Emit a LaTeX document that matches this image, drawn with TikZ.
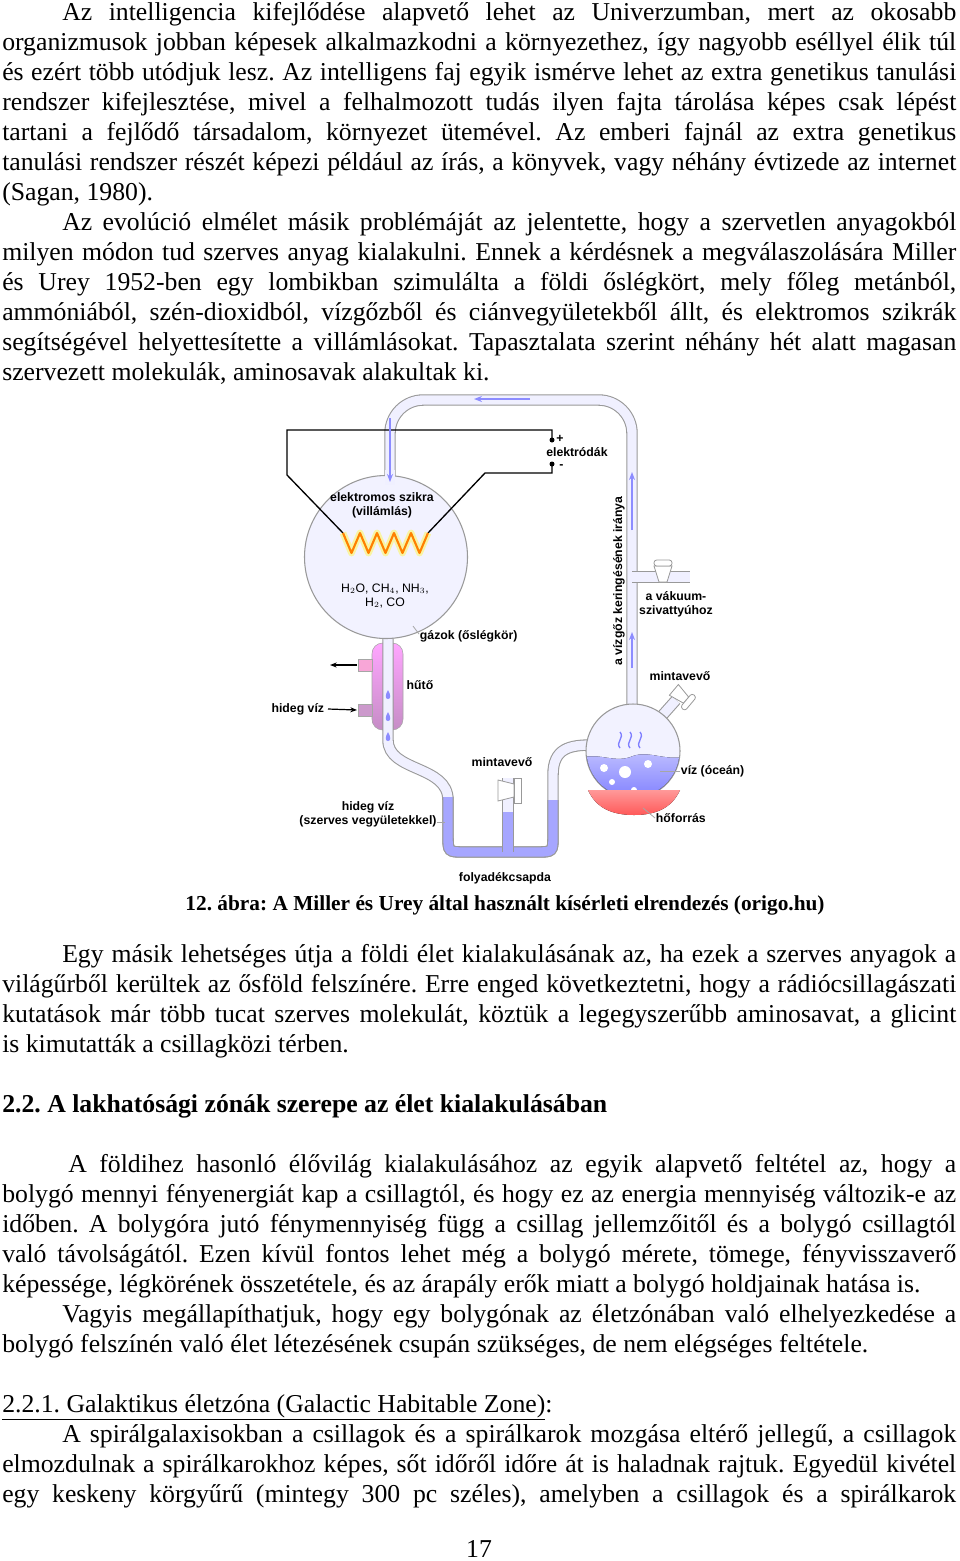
\documentclass[tikz,border=0pt]{standalone}
\usepackage{fontspec}
\setmainfont{Liberation Serif}
\newfontfamily\labfont{Liberation Sans}
\usetikzlibrary{arrows.meta}
\frenchspacing

\newcommand\jline[4]{\node[anchor=base west,inner sep=0pt] (#1) at (#2,#3) {\hbox to \dimexpr(956pt-#2pt)*3/4\relax{#4}};}
\newcommand\lline[4]{\node[anchor=base west,inner sep=0pt] (#1) at (#2,#3) {#4};}

\tikzset{
  tube/.style={draw=gray!80,line width=0.8pt,double=blue!6,double distance=7pt},
  liquid/.style={draw=gray!80,line width=0.8pt,double=blue!35,double distance=7pt},
  lab/.style={font=\labfont\bfseries\fontsize{9.2}{10.5}\selectfont,inner sep=0.5pt,align=center},
  flowarrow/.style={-{Stealth[length=6pt]},draw=blue!45,line width=1.6pt},
  leader/.style={draw=gray!70,line width=0.6pt},
  wire/.style={draw=black,line width=1pt},
  valve/.style={draw=gray!80,fill=white,line width=0.6pt},
}

\begin{document}
\begin{tikzpicture}[x=0.75pt,y=-0.75pt,font=\fontsize{19.3}{22}\selectfont]
    \useasboundingbox[fill=white] (0,0) rectangle (960,1561);

    % first paragraph
    \jline{p1}{62}{20}{Az intelligencia kifejlődése alapvető lehet az Univerzumban, mert az okosabb}
    \jline{p2}{2}{50}{organizmusok jobban képesek alkalmazkodni a környezethez, így nagyobb eséllyel élik túl}
    \jline{p3}{2}{80}{és ezért több utódjuk lesz. Az intelligens faj egyik ismérve lehet az extra genetikus tanulási}
    \jline{p4}{2}{110}{rendszer kifejlesztése, mivel a felhalmozott tudás ilyen fajta tárolása képes csak lépést}
    \jline{p5}{2}{140}{tartani a fejlődő társadalom, környezet ütemével. Az emberi fajnál az extra genetikus}
    \jline{p6}{2}{170}{tanulási rendszer részét képezi például az írás, a könyvek, vagy néhány évtizede az internet}
    \lline{p7}{2}{200}{(Sagan, 1980).}
    % second paragraph
    \jline{q1}{62}{230}{Az evolúció elmélet másik problémáját az jelentette, hogy a szervetlen anyagokból}
    \jline{q2}{2}{260}{milyen módon tud szerves anyag kialakulni. Ennek a kérdésnek a megválaszolására Miller}
    \jline{q3}{2}{290}{és Urey 1952-ben egy lombikban szimulálta a földi őslégkört, mely főleg metánból,}
    \jline{q4}{2}{320}{ammóniából, szén-dioxidból, vízgőzből és ciánvegyületekből állt, és elektromos szikrák}
    \jline{q5}{2}{350}{segítségével helyettesítette a villámlásokat. Tapasztalata szerint néhány hét alatt magasan}
    \lline{q6}{2}{380}{szervezett molekulák, aminosavak alakultak ki.}

    % apparatus: upper loop
    \draw[tube,rounded corners=25] (390,480) -- (390,400) -- (632,400) -- (632,708);
    \draw[tube] (632,577) -- (690,577);
    \draw[tube] (660,718) -- (676,700);
    % condenser
    \draw[draw=gray!70,top color=magenta!35,bottom color=violet!45,rounded corners=8] (372,643) rectangle (403,730);
    \draw[draw=gray!70,fill=magenta!35] (358,659) rectangle (372,671);
    \draw[draw=gray!70,fill=violet!40] (358,704) rectangle (372,716);
    % lower tube and liquid trap
    \draw[tube] (388,630) -- (388,740) .. controls (388,772) and (448,765) .. (448,800) -- (448,835) .. controls (448,852) .. (465,852) -- (536,852) .. controls (553,852) .. (553,835) -- (553,775) .. controls (553,748) and (570,745) .. (592,745);
    \draw[liquid] (448,797) -- (448,835) .. controls (448,852) .. (465,852) -- (536,852) .. controls (553,852) .. (553,835) -- (553,800);
    \draw[liquid] (508,852) -- (508,812);
    \draw[tube] (508,812) -- (508,778);
    % drops
    \foreach \dy in {690,712,732}
      \fill[blue!45] (388,\dy) .. controls (385,\dy+5) and (385,\dy+9) .. (388,\dy+9) .. controls (391,\dy+9) and (391,\dy+5) .. (388,\dy);
    % middle sampler
    \draw[valve] (498,780) -- (514,784) -- (514,797) -- (498,801) -- cycle;
    \draw[valve] (514,778) rectangle (521,803);

    % big flask
    \node[circle,draw=gray!80,line width=0.8pt,fill=blue!5,minimum size=163pt*3/4,inner sep=0pt] (bigflask) at (386,557) {};
    \fill[blue!6] (385,470) rectangle (395,485);
    % electrodes
    \coordinate (plus) at (552,440);
    \coordinate (minus) at (552,464);
    \draw[wire] (343,533) -- (287,475) -- (287,430) -- (552,430) -- (plus);
    \draw[wire] (428,533) -- (485,473) -- (552,473) -- (minus);
    \fill (plus) circle (2.5);
    \fill (minus) circle (2.5);
    \node[lab,anchor=south west,inner sep=0pt] (pl) at (556,443) {+};
    \node[lab,anchor=west,inner sep=0pt] (mi) at (559,467) {-};
    \node[lab,anchor=west,inner sep=0pt] (elek) at (546,452) {elektródák};
    % spark
    \draw[yellow!70,line width=5pt,opacity=0.5,line join=round] (343,533) \foreach \i in {0,...,4} { -- ({351.5+17*\i},553) -- ({360+17*\i},533) } ;
    \draw[orange,line width=1.6pt,line join=round] (343,533) \foreach \i in {0,...,4} { -- ({351.5+17*\i},553) -- ({360+17*\i},533) } ;
    \node[lab] (szikra) at (382,505) {elektromos szikra\\(villámlás)};
    \node[lab,font=\labfont\fontsize{9.2}{10.5}\selectfont] (gases) at (385,596) {H$_2$O, CH$_4$, NH$_3$,\\H$_2$, CO};
    \node[lab,anchor=west] (gazok) at (419,636) {gázok (őslégkör)};
    \draw[leader] (gazok.west) ++(0,-2) -- (413,626);

    % right flask
    \node[circle,draw=gray!80,line width=0.8pt,fill=blue!5,minimum size=94pt*3/4,inner sep=0pt] (smallflask) at (633,751) {};
    \begin{scope}
      \clip (633,751) circle (46.5);
      \fill[top color=blue!25,bottom color=blue!50] (580,758) .. controls (600,752) and (615,764) .. (633,756) .. controls (650,750) and (665,762) .. (690,756) -- (690,800) -- (580,800) -- cycle;
    \end{scope}
    \foreach \bx/\by/\br in {604/768/4,625/772/6,648/764/4,612/782/3,634/790/3}
      \fill[white] (\bx,\by) circle (\br);
    \foreach \sx in {620,630,640}
      \draw[blue!50,line width=1pt] (\sx,748) .. controls (\sx-5,742) and (\sx+5,738) .. (\sx,732);
    \fill[top color=red!40,bottom color=red!65] (588,790) -- (680,790) .. controls (672,808) and (656,815) .. (634,815) .. controls (612,815) and (596,808) .. (588,790) -- cycle;
    \begin{scope}[rotate around={-40:(680,695)}]
      \draw[valve] (672,688) -- (688,691) -- (688,699) -- (672,702) -- cycle;
      \draw[valve,rounded corners=2] (688,686) rectangle (694,704);
    \end{scope}
    \draw[valve] (654,566) -- (672,566) -- (667,582) -- (659,582) -- cycle;
    \draw[valve,rounded corners=2] (654,560) rectangle (672,566);

    % flow arrows
    \draw[flowarrow] (530,399) -- (474,399);
    \draw[flowarrow] (390,418) -- (390,482);
    \draw[flowarrow] (632,530) -- (632,472);
    \draw[flowarrow] (632,668) -- (632,632);

    % labels
    \node[lab,rotate=90] (irany) at (619,581) {a vízgőz keringésének iránya};
    \node[lab] (vakuum) at (676,604) {a vákuum-\\szivattyúhoz};
    \node[lab] (mint1) at (680,676) {mintavevő};
    \node[lab] (mint2) at (502,762) {mintavevő};
    \node[lab,anchor=west] (ocean) at (680,771) {víz (óceán)};
    \draw[leader] (ocean.west) -- (660,771);
    \node[lab,anchor=west] (hofo) at (655,818) {hőforrás};
    \draw[leader] (hofo.west) -- (643,808);
    \node[lab] (huto) at (420,685) {hűtő};
    \node[lab,anchor=east] (hideg1) at (325,709) {hideg víz};
    \draw[-{Stealth[length=5pt]},line width=0.9pt] (hideg1.east) ++(3,0) -- (357,710);
    \coordinate (outend) at (330,665);
    \draw[-{Stealth[length=5pt]},line width=0.9pt] (357,665) -- (outend);
    \node[lab] (hideg2) at (368,814) {hideg víz\\(szerves vegyületekkel)};
    \draw[leader] (hideg2.east) ++(0,8) -- (445,822);
    \node[lab] (csapda) at (505,878) {folyadékcsapda};

    % caption
    \node[font=\bfseries\fontsize{16}{18}\selectfont,inner sep=0pt,anchor=base] (cap) at (505,910) {12. ábra: A Miller és Urey által használt kísérleti elrendezés (origo.hu)};

    % third paragraph
    \jline{r1}{62}{962}{Egy másik lehetséges útja a földi élet kialakulásának az, ha ezek a szerves anyagok a}
    \jline{r2}{2}{992}{világűrből kerültek az ősföld felszínére. Erre enged következtetni, hogy a rádiócsillagászati}
    \jline{r3}{2}{1022}{kutatások már több tucat szerves molekulát, köztük a legegyszerűbb aminosavat, a glicint}
    \lline{r4}{2}{1052}{is kimutatták a csillagközi térben.}
    \lline{h22}{2}{1112}{\bfseries 2.2. A lakhatósági zónák szerepe az élet kialakulásában}
    \jline{s1}{68}{1172}{A földihez hasonló élővilág kialakulásához az egyik alapvető feltétel az, hogy a}
    \jline{s2}{2}{1202}{bolygó mennyi fényenergiát kap a csillagtól, és hogy ez az energia mennyiség változik-e az}
    \jline{s3}{2}{1232}{időben. A bolygóra jutó fénymennyiség függ a csillag jellemzőitől és a bolygó csillagtól}
    \jline{s4}{2}{1262}{való távolságától. Ezen kívül fontos lehet még a bolygó mérete, tömege, fényvisszaverő}
    \lline{s5}{2}{1292}{képessége, légkörének összetétele, és az árapály erők miatt a bolygó holdjainak hatása is.}
    \jline{t1}{62}{1322}{Vagyis megállapíthatjuk, hogy egy bolygónak az életzónában való elhelyezkedése a}
    \lline{t2}{2}{1352}{bolygó felszínén való élet létezésének csupán szükséges, de nem elégséges feltétele.}
    \lline{h221}{2}{1412}{\underline{2.2.1. Galaktikus életzóna (Galactic Habitable Zone)}:}
    \jline{u1}{62}{1442}{A spirálgalaxisokban a csillagok és a spirálkarok mozgása eltérő jellegű, a csillagok}
    \jline{u2}{2}{1472}{elmozdulnak a spirálkarokhoz képes, sőt időről időre át is haladnak rajtuk. Egyedül kivétel}
    \jline{u3}{2}{1502}{egy keskeny körgyűrű (mintegy 300 pc széles), amelyben a csillagok és a spirálkarok}
    \node[anchor=base,inner sep=0pt] (pagenum) at (479,1557) {17};
\end{tikzpicture}
\end{document}
